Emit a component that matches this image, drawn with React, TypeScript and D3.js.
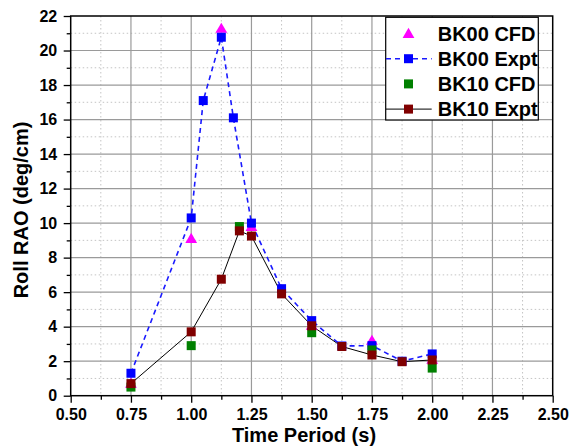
import { useEffect, useRef } from 'react';
import * as d3 from 'd3';

// BK00 CFD (magenta triangles)
const bk00CfdPeriod = [0.75, 1.0, 1.125, 1.25, 1.5, 1.75, 2.0];
const bk00CfdRao = [0.72, 9.1, 21.28, 9.8, 4.07, 3.2, 2.1];

// BK00 Expt (blue squares, dashed)
const bk00ExptPeriod = [0.75, 1.0, 1.05, 1.125, 1.175, 1.25, 1.375, 1.5, 1.625, 1.75, 1.875, 2.0];
const bk00ExptRao = [1.3, 10.3, 17.1, 20.77, 16.1, 10.0, 6.2, 4.35, 2.88, 2.9, 2.0, 2.42];

// BK10 CFD (green squares)
const bk10CfdPeriod = [0.75, 1.0, 1.2, 1.5, 1.75, 2.0];
const bk10CfdRao = [0.5, 2.9, 9.8, 3.65, 2.65, 1.6];

// BK10 Expt (maroon squares, solid)
const bk10ExptPeriod = [0.75, 1.0, 1.125, 1.2, 1.25, 1.375, 1.5, 1.625, 1.75, 1.875, 2.0];
const bk10ExptRao = [0.7, 3.7, 6.75, 9.55, 9.25, 5.9, 4.05, 2.85, 2.36, 1.97, 2.07];

const xTicks = [0.5, 0.75, 1.0, 1.25, 1.5, 1.75, 2.0, 2.25, 2.5];
const yTicks = [0, 2, 4, 6, 8, 10, 12, 14, 16, 18, 20, 22];
const legendLabels = ['BK00 CFD', 'BK00 Expt', 'BK10 CFD', 'BK10 Expt'];

const FONT = '"Liberation Sans", Arial, sans-serif';

const App = () => {
  const svgRef = useRef<SVGSVGElement>(null);

  useEffect(() => {
    const svg = d3.select(svgRef.current);
    svg.selectAll('*').remove();

    const W = 569;
    const H = 448;
    const left = 70.7, right = 552.7, top = 16, bottom = 395.7;

    svg.attr('width', W).attr('height', H);
    svg.append('rect').attr('width', W).attr('height', H).attr('fill', '#fff');

    const x = d3.scaleLinear().domain([0.5, 2.5]).range([left, right]);
    const y = d3.scaleLinear().domain([0, 22]).range([bottom, top]);

    const minorX = d3.range(0.625, 2.5, 0.25);
    const minorY = d3.range(1, 22, 2);

    // grid
    const grid = svg.append('g');
    grid.selectAll('.mx').data(minorX).enter().append('line')
      .attr('x1', d => x(d)).attr('x2', d => x(d)).attr('y1', top).attr('y2', bottom)
      .attr('stroke', '#c4c4c4').attr('stroke-width', 1).attr('stroke-dasharray', '1.5,2.5');
    grid.selectAll('.my').data(minorY).enter().append('line')
      .attr('x1', left).attr('x2', right).attr('y1', d => y(d)).attr('y2', d => y(d))
      .attr('stroke', '#c4c4c4').attr('stroke-width', 1).attr('stroke-dasharray', '1.5,2.5');
    grid.selectAll('.gx').data(xTicks.slice(1, -1)).enter().append('line')
      .attr('x1', d => x(d)).attr('x2', d => x(d)).attr('y1', top).attr('y2', bottom)
      .attr('stroke', '#9a9a9a').attr('stroke-width', 1.2);
    grid.selectAll('.gy').data(yTicks.slice(1, -1)).enter().append('line')
      .attr('x1', left).attr('x2', right).attr('y1', d => y(d)).attr('y2', d => y(d))
      .attr('stroke', '#9a9a9a').attr('stroke-width', 1.2);

    // axes
    const xAxis = svg.append('g')
      .attr('transform', `translate(0,${bottom})`)
      .call(d3.axisBottom(x).tickValues(xTicks).tickSize(7).tickPadding(6).tickFormat(d3.format('.2f')));
    const xMinor = svg.append('g')
      .attr('transform', `translate(0,${bottom})`)
      .call(d3.axisBottom(x).tickValues(minorX).tickSize(4).tickFormat(() => ''));
    const yAxis = svg.append('g')
      .attr('transform', `translate(${left},0)`)
      .call(d3.axisLeft(y).tickValues(yTicks).tickSize(7).tickPadding(6.5).tickFormat(d3.format('d')));
    const yMinor = svg.append('g')
      .attr('transform', `translate(${left},0)`)
      .call(d3.axisLeft(y).tickValues(minorY).tickSize(4).tickFormat(() => ''));

    [xAxis, xMinor, yAxis, yMinor].forEach(a => {
      a.select('.domain').remove();
      a.selectAll('line').attr('stroke', '#000').attr('stroke-width', 1.3);
      a.selectAll('text')
        .attr('fill', '#000')
        .style('font-family', FONT)
        .style('font-size', '16px')
        .style('font-weight', 'bold');
    });

    // frame
    svg.append('rect')
      .attr('x', left).attr('y', top).attr('width', right - left).attr('height', bottom - top)
      .attr('fill', 'none').attr('stroke', '#000').attr('stroke-width', 1.5);

    // axis titles
    svg.append('text')
      .attr('x', 304).attr('y', 442)
      .attr('text-anchor', 'middle')
      .style('font-family', FONT).style('font-size', '20px').style('font-weight', 'bold')
      .text('Time Period (s)');
    svg.append('text')
      .attr('transform', `translate(27.5,210) rotate(-90)`)
      .attr('text-anchor', 'middle')
      .style('font-family', FONT).style('font-size', '20px').style('font-weight', 'bold')
      .text('Roll RAO (deg/cm)');

    const line = d3.line<[number, number]>().x(d => x(d[0])).y(d => y(d[1]));
    const pts = (px: number[], py: number[]) => px.map((p, i) => [p, py[i]] as [number, number]);

    const bk00Cfd = pts(bk00CfdPeriod, bk00CfdRao);
    const bk00Expt = pts(bk00ExptPeriod, bk00ExptRao);
    const bk10Cfd = pts(bk10CfdPeriod, bk10CfdRao);
    const bk10Expt = pts(bk10ExptPeriod, bk10ExptRao);

    svg.append('path').datum(bk10Expt).attr('d', line)
      .attr('fill', 'none').attr('stroke', '#000').attr('stroke-width', 1);
    svg.append('path').datum(bk00Expt).attr('d', line)
      .attr('fill', 'none').attr('stroke', '#1a1aff').attr('stroke-width', 1.6)
      .attr('stroke-dasharray', '5,4');

    const tri = d3.symbol().type(d3.symbolTriangle).size(60);
    const sq = 9;

    svg.append('g').selectAll('path').data(bk00Cfd).enter().append('path')
      .attr('d', tri).attr('transform', d => `translate(${x(d[0])},${y(d[1]) + 1})`)
      .attr('fill', '#ff00ff');

    const squares = (data: [number, number][], color: string) => {
      svg.append('g').selectAll('rect').data(data).enter().append('rect')
        .attr('x', d => x(d[0]) - sq / 2).attr('y', d => y(d[1]) - sq / 2)
        .attr('width', sq).attr('height', sq)
        .attr('fill', color);
    };
    squares(bk00Expt, '#0000ff');
    squares(bk10Cfd, '#008000');
    squares(bk10Expt, '#800000');

    // legend
    const legend = svg.append('g');
    legend.append('rect')
      .attr('x', 385.7).attr('y', 17.3).attr('width', 152.6).attr('height', 102.7)
      .attr('fill', '#fff').attr('stroke', '#000').attr('stroke-width', 1.2);

    const colors = ['#ff00ff', '#0000ff', '#008000', '#800000'];
    const legendItems = legend.selectAll('.legend-item')
      .data(legendLabels)
      .enter().append('g')
      .attr('transform', (d, i) => `translate(0,${33.5 + i * 25.2})`);

    legendItems.each(function (d, i) {
      const g = d3.select(this);
      if (i === 1) {
        g.append('line').attr('x1', 386).attr('x2', 431.7).attr('y1', 0).attr('y2', 0)
          .attr('stroke', '#1a1aff').attr('stroke-width', 1.6).attr('stroke-dasharray', '5,4');
      }
      if (i === 3) {
        g.append('line').attr('x1', 386).attr('x2', 431.7).attr('y1', 0).attr('y2', 0)
          .attr('stroke', '#000').attr('stroke-width', 1);
      }
      if (i === 0) {
        g.append('path').attr('d', tri).attr('transform', 'translate(408.5,1)').attr('fill', colors[i]);
      } else {
        g.append('rect').attr('x', 408.5 - 4.5).attr('y', -4.5).attr('width', 9).attr('height', 9)
          .attr('fill', colors[i]);
      }
      g.append('text')
        .attr('x', 437.7).attr('y', 7)
        .style('font-family', FONT).style('font-size', '20px').style('font-weight', 'bold')
        .attr('fill', '#000')
        .text(d);
    });
  }, []);

  return (
    <div style={{ position: 'absolute', left: 0, top: 0 }}>
      <svg ref={svgRef} style={{ display: 'block' }}></svg>
    </div>
  );
};

export default App;
